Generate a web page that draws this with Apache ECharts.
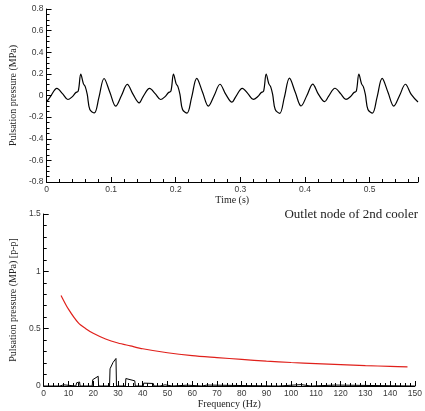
<!DOCTYPE html>
<html>
<head>
<meta charset="utf-8">
<script src="https://cdn.jsdelivr.net/npm/echarts@6/dist/echarts.min.js"></script>
<style>
  html, body { margin: 0; padding: 0; background: #fff; }
  #chart { width: 425px; height: 411px; }
</style>
</head>
<body>
<div id="chart"></div>
<script>
// 时域波形 (s, MPa)
var timeS = [
  0, 0.006, 0.016, 0.025, 0.033, 0.040, 0.045, 0.049, 0.053, 0.057, 0.060, 0.063, 0.067, 0.074, 0.081, 0.089, 0.098, 0.107, 0.116, 0.125, 0.134,
  0.1435, 0.1495, 0.1595, 0.1685, 0.1765, 0.1835, 0.1885, 0.1925, 0.1965, 0.2005, 0.2035, 0.2065, 0.2105, 0.2175, 0.2245, 0.2325, 0.2415, 0.2505, 0.2595, 0.2685, 0.2775,
  0.287, 0.293, 0.303, 0.312, 0.320, 0.327, 0.332, 0.336, 0.340, 0.344, 0.347, 0.350, 0.354, 0.361, 0.368, 0.376, 0.385, 0.394, 0.403, 0.412, 0.421,
  0.4305, 0.4365, 0.4465, 0.4555, 0.4635, 0.4705, 0.4755, 0.4795, 0.4835, 0.4875, 0.4905, 0.4935, 0.4975, 0.5045, 0.5115, 0.5195, 0.5285, 0.5375, 0.5465, 0.5555, 0.5645, 0.575
];
var pulse = [
  -0.06, -0.01, 0.065, 0.015, -0.037, -0.01, 0.025, 0.04, 0.197, 0.11, 0.08, 0.01, -0.13, -0.161, -0.02, 0.157, 0.03, -0.099, 0.0, 0.102, 0.01,
  -0.068, -0.01, 0.065, 0.015, -0.037, -0.01, 0.025, 0.04, 0.197, 0.11, 0.08, 0.01, -0.13, -0.163, -0.02, 0.158, 0.03, -0.098, 0.0, 0.104, 0.01,
  -0.062, -0.01, 0.066, 0.015, -0.036, -0.01, 0.025, 0.04, 0.199, 0.11, 0.08, 0.01, -0.13, -0.165, -0.02, 0.16, 0.03, -0.097, 0.0, 0.106, 0.01,
  -0.057, -0.008, 0.067, 0.015, -0.036, -0.01, 0.025, 0.04, 0.198, 0.11, 0.08, 0.01, -0.13, -0.163, -0.02, 0.158, 0.03, -0.098, 0.0, 0.104, 0.01, -0.06
];

// 频谱 (Hz, MPa p-p)
var specFreq = [0, 6.5, 7, 8, 8.2, 13, 13.3, 14.5, 14.7, 19.6, 19.8, 22, 22.2, 26.6, 26.8, 28, 29.2, 29.4, 33, 33.2, 36.8, 37, 40.2, 40.4, 44.3, 44.5,
  47, 47.2, 49, 49.2, 52, 52.2, 58, 58.2, 64, 64.2, 66, 66.2, 95, 95.2, 104, 104.2, 108, 108.2, 118, 118.2, 150];
var specAmp = [0, 0, 0.012, 0.01, 0, 0, 0.028, 0.035, 0, 0, 0.055, 0.085, 0, 0, 0.15, 0.205, 0.24, 0, 0, 0.065, 0.045, 0, 0, 0.025, 0.022, 0,
  0, 0.012, 0.01, 0, 0, 0.008, 0.007, 0, 0, 0.01, 0.008, 0, 0, 0.01, 0.012, 0, 0, 0.012, 0.008, 0, 0];

// 限值曲线
var limitFreq = [7, 10, 14, 17, 20, 25, 30, 35, 40, 50, 60, 70, 80, 90, 100, 110, 120, 130, 140, 147];
var limitAmp = [0.79, 0.67, 0.55, 0.5, 0.46, 0.41, 0.375, 0.35, 0.325, 0.29, 0.265, 0.248, 0.232, 0.217, 0.205, 0.195, 0.186, 0.178, 0.171, 0.166];

var noteText = 'Outlet node of 2nd cooler';

function pairs(xs, ys) {
  var out = [];
  for (var i = 0; i < xs.length; i++) out.push([xs[i], ys[i]]);
  return out;
}

var labelStyle = { fontFamily: 'Liberation Sans', fontSize: 8.5, color: '#3a3a3a', margin: 3 };
var nameStyle = { fontFamily: 'Liberation Serif', fontSize: 10, color: '#222' };
var lineStyle = { color: '#000', width: 1 };

function axisBase() {
  return {
    axisLine: { show: true, onZero: false, lineStyle: lineStyle },
    axisTick: { show: true, inside: true, length: 5, lineStyle: lineStyle },
    minorTick: { show: true, length: 3, lineStyle: lineStyle },
    splitLine: { show: false },
    axisLabel: Object.assign({}, labelStyle),
    nameTextStyle: nameStyle,
    nameLocation: 'middle'
  };
}

var xTop = Object.assign(axisBase(), {
  type: 'value', gridIndex: 0, min: 0, max: 0.575, interval: 0.1,
  name: 'Time (s)', nameGap: 10
});
xTop.minorTick.splitNumber = 5;
xTop.axisLabel.showMaxLabel = false;

var yTop = Object.assign(axisBase(), {
  type: 'value', gridIndex: 0, min: -0.8, max: 0.8, interval: 0.2,
  name: 'Pulsation pressure (MPa)', nameGap: 22
});
yTop.minorTick.splitNumber = 4;

var xBot = Object.assign(axisBase(), {
  type: 'value', gridIndex: 1, min: 0, max: 150, interval: 10,
  name: 'Frequency (Hz)', nameGap: 12
});
xBot.minorTick.splitNumber = 5;

var yBot = Object.assign(axisBase(), {
  type: 'value', gridIndex: 1, min: 0, max: 1.5, interval: 0.5,
  name: 'Pulsation pressure (MPa) [p-p]', nameGap: 22
});
yBot.minorTick.splitNumber = 5;

var myChart = echarts.init(document.getElementById('chart'), null, { renderer: 'canvas' });
myChart.setOption({
  animation: false,
  backgroundColor: '#fff',
  title: {
    text: noteText, right: 2, top: 203,
    textStyle: { fontFamily: 'Liberation Serif', fontSize: 13, fontWeight: 'normal', color: '#222' }
  },
  grid: [
    { left: 41, top: 9, width: 377, height: 173 },
    { left: 40, top: 214, width: 377, height: 172 }
  ],
  xAxis: [xTop, xBot],
  yAxis: [yTop, yBot],
  series: [
    {
      type: 'line', xAxisIndex: 0, yAxisIndex: 0, data: pairs(timeS, pulse),
      smooth: 0.35, showSymbol: false, lineStyle: { color: '#000', width: 1.2 }
    },
    {
      type: 'line', xAxisIndex: 1, yAxisIndex: 1, data: pairs(specFreq, specAmp),
      showSymbol: false, lineStyle: { color: '#000', width: 1 }
    },
    {
      type: 'line', xAxisIndex: 1, yAxisIndex: 1, data: pairs(limitFreq, limitAmp),
      smooth: 0.3, showSymbol: false, lineStyle: { color: '#e0201b', width: 1.2 }
    }
  ]
});
</script>
</body>
</html>
